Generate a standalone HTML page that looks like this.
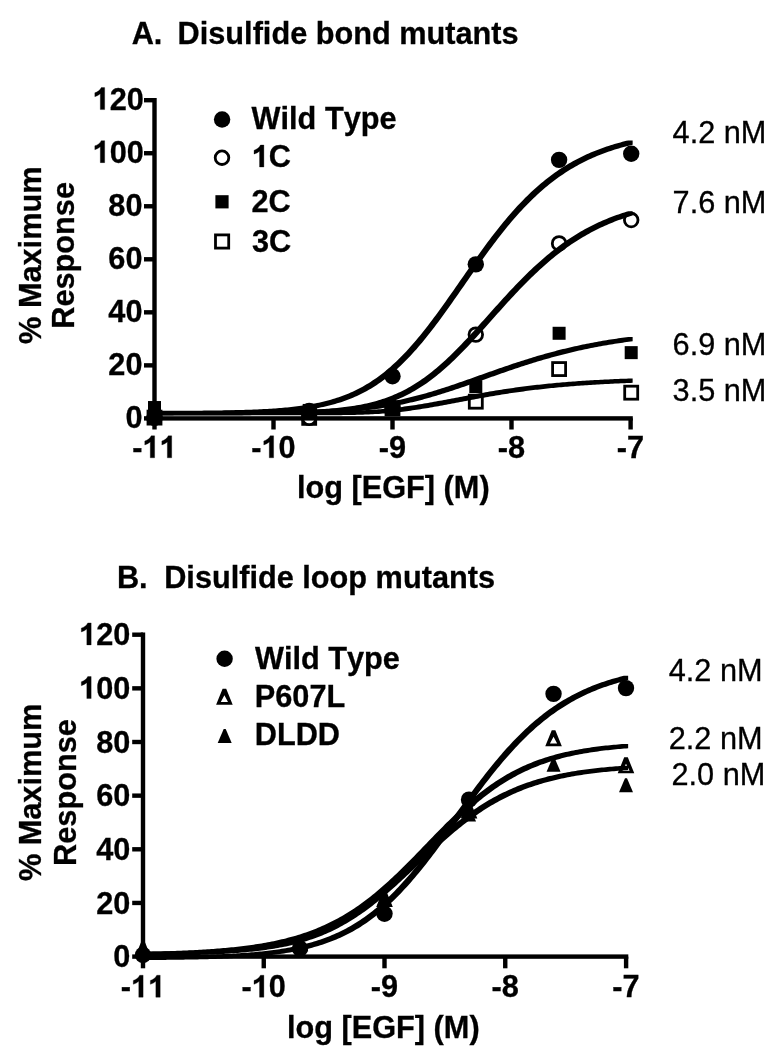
<!DOCTYPE html>
<html><head><meta charset="utf-8"><title>EGF dose response</title>
<style>
html,body{margin:0;padding:0;background:#fff;width:776px;height:1050px;overflow:hidden;}
svg{display:block;will-change:transform;}
text{font-family:"Liberation Sans",sans-serif;font-size:30.7px;fill:#000;font-kerning:none;stroke:#000;stroke-width:0.3px;}
</style></head>
<body>
<svg width="776" height="1050" viewBox="0 0 776 1050">
<rect width="776" height="1050" fill="#fff"/>
<text x="142.50" y="0" text-anchor="end" font-weight="bold" transform="translate(0 427.80) scale(1 1.04)">0</text>
<text x="130.30" y="0" text-anchor="end" font-weight="bold" transform="translate(0 967.40) scale(1 1.04)">0</text>
<text x="142.50" y="0" text-anchor="end" font-weight="bold" transform="translate(0 374.77) scale(1 1.04)">20</text>
<text x="130.30" y="0" text-anchor="end" font-weight="bold" transform="translate(0 913.75) scale(1 1.04)">20</text>
<text x="142.50" y="0" text-anchor="end" font-weight="bold" transform="translate(0 321.73) scale(1 1.04)">40</text>
<text x="130.30" y="0" text-anchor="end" font-weight="bold" transform="translate(0 860.10) scale(1 1.04)">40</text>
<text x="142.50" y="0" text-anchor="end" font-weight="bold" transform="translate(0 268.70) scale(1 1.04)">60</text>
<text x="130.30" y="0" text-anchor="end" font-weight="bold" transform="translate(0 806.45) scale(1 1.04)">60</text>
<text x="142.50" y="0" text-anchor="end" font-weight="bold" transform="translate(0 215.67) scale(1 1.04)">80</text>
<text x="130.30" y="0" text-anchor="end" font-weight="bold" transform="translate(0 752.80) scale(1 1.04)">80</text>
<path d="M806 0H516V1059Q371 925 150 860V1120Q272 1155 401 1250Q530 1345 578 1466H806Z" stroke="#000" stroke-width="20.0" transform="translate(92.58 162.63) scale(0.014990 -0.014990)"/>
<text x="109.65" y="0" font-weight="bold" transform="translate(0 162.63) scale(1 1.04)">00</text>
<path d="M806 0H516V1059Q371 925 150 860V1120Q272 1155 401 1250Q530 1345 578 1466H806Z" stroke="#000" stroke-width="20.0" transform="translate(79.08 698.55) scale(0.014990 -0.014990)"/>
<text x="96.15" y="0" font-weight="bold" transform="translate(0 698.55) scale(1 1.04)">00</text>
<path d="M806 0H516V1059Q371 925 150 860V1120Q272 1155 401 1250Q530 1345 578 1466H806Z" stroke="#000" stroke-width="20.0" transform="translate(92.58 109.60) scale(0.014990 -0.014990)"/>
<text x="109.65" y="0" font-weight="bold" transform="translate(0 109.60) scale(1 1.04)">20</text>
<path d="M806 0H516V1059Q371 925 150 860V1120Q272 1155 401 1250Q530 1345 578 1466H806Z" stroke="#000" stroke-width="20.0" transform="translate(79.08 644.90) scale(0.014990 -0.014990)"/>
<text x="96.15" y="0" font-weight="bold" transform="translate(0 644.90) scale(1 1.04)">20</text>
<text x="132.31" y="0" font-weight="bold" transform="translate(0 457.80) scale(1 1.04)">-</text>
<path d="M806 0H516V1059Q371 925 150 860V1120Q272 1155 401 1250Q530 1345 578 1466H806Z" stroke="#000" stroke-width="20.0" transform="translate(142.54 457.80) scale(0.014990 -0.014990)"/>
<path d="M806 0H516V1059Q371 925 150 860V1120Q272 1155 401 1250Q530 1345 578 1466H806Z" stroke="#000" stroke-width="20.0" transform="translate(159.61 457.80) scale(0.014990 -0.014990)"/>
<text x="120.81" y="0" font-weight="bold" transform="translate(0 997.20) scale(1 1.04)">-</text>
<path d="M806 0H516V1059Q371 925 150 860V1120Q272 1155 401 1250Q530 1345 578 1466H806Z" stroke="#000" stroke-width="20.0" transform="translate(131.04 997.20) scale(0.014990 -0.014990)"/>
<path d="M806 0H516V1059Q371 925 150 860V1120Q272 1155 401 1250Q530 1345 578 1466H806Z" stroke="#000" stroke-width="20.0" transform="translate(148.11 997.20) scale(0.014990 -0.014990)"/>
<text x="251.31" y="0" font-weight="bold" transform="translate(0 457.80) scale(1 1.04)">-</text>
<path d="M806 0H516V1059Q371 925 150 860V1120Q272 1155 401 1250Q530 1345 578 1466H806Z" stroke="#000" stroke-width="20.0" transform="translate(261.54 457.80) scale(0.014990 -0.014990)"/>
<text x="278.61" y="0" font-weight="bold" transform="translate(0 457.80) scale(1 1.04)">0</text>
<text x="241.56" y="0" font-weight="bold" transform="translate(0 997.20) scale(1 1.04)">-</text>
<path d="M806 0H516V1059Q371 925 150 860V1120Q272 1155 401 1250Q530 1345 578 1466H806Z" stroke="#000" stroke-width="20.0" transform="translate(251.79 997.20) scale(0.014990 -0.014990)"/>
<text x="268.86" y="0" font-weight="bold" transform="translate(0 997.20) scale(1 1.04)">0</text>
<text x="392.50" y="0" text-anchor="middle" font-weight="bold" transform="translate(0 457.80) scale(1 1.04)">-9</text>
<text x="384.50" y="0" text-anchor="middle" font-weight="bold" transform="translate(0 997.20) scale(1 1.04)">-9</text>
<text x="511.50" y="0" text-anchor="middle" font-weight="bold" transform="translate(0 457.80) scale(1 1.04)">-8</text>
<text x="505.25" y="0" text-anchor="middle" font-weight="bold" transform="translate(0 997.20) scale(1 1.04)">-8</text>
<text x="630.50" y="0" text-anchor="middle" font-weight="bold" transform="translate(0 457.80) scale(1 1.04)">-7</text>
<text x="626.00" y="0" text-anchor="middle" font-weight="bold" transform="translate(0 997.20) scale(1 1.04)">-7</text>
<text x="131.70" y="0" text-anchor="start" font-weight="bold" transform="translate(0 44.20) scale(1 1.04)">A.</text>
<text x="177.60" y="0" text-anchor="start" font-weight="bold" transform="translate(0 44.20) scale(1 1.03)">Disulfide bond mutants</text>
<text x="116.90" y="0" text-anchor="start" font-weight="bold" transform="translate(0 588.20) scale(1 1.04)">B.</text>
<text x="164.20" y="0" text-anchor="start" font-weight="bold" transform="translate(0 588.20) scale(1 1.03)">Disulfide loop mutants</text>
<text x="297.00" y="0" text-anchor="start" font-weight="bold" transform="translate(0 498.00) scale(1 1.03)">log [EGF] (M)</text>
<text x="287.00" y="0" text-anchor="start" font-weight="bold" transform="translate(0 1038.00) scale(1 1.03)">log [EGF] (M)</text>
<text x="0" y="0" font-weight="bold" transform="translate(40.50 343.90) rotate(-90) scale(1 1.03)">% Maximum</text>
<text x="0" y="0" font-weight="bold" transform="translate(74.40 328.70) rotate(-90) scale(1 1.03)">Response</text>
<text x="0" y="0" font-weight="bold" transform="translate(41.40 881.10) rotate(-90) scale(1 1.03)">% Maximum</text>
<text x="0" y="0" font-weight="bold" transform="translate(76.00 865.90) rotate(-90) scale(1 1.03)">Response</text>
<circle cx="222.10" cy="119.50" r="8.2"/>
<text x="251.60" y="0" text-anchor="start" font-weight="bold" transform="translate(0 129.00) scale(1 1.03)">Wild Type</text>
<circle cx="222.00" cy="157.70" r="6.8" fill="#fff" stroke="#000" stroke-width="2.8"/>
<path d="M806 0H516V1059Q371 925 150 860V1120Q272 1155 401 1250Q530 1345 578 1466H806Z" stroke="#000" stroke-width="20.0" transform="translate(251.80 167.00) scale(0.014990 -0.014990)"/>
<text x="268.87" y="0" font-weight="bold" transform="translate(0 167.00) scale(1 1.04)">C</text>
<rect x="215.40" y="195.20" width="13.2" height="13.2"/>
<text x="251.50" y="0" text-anchor="start" font-weight="bold" transform="translate(0 211.60) scale(1 1.04)">2C</text>
<rect x="215.50" y="234.90" width="13.20" height="13.20" fill="#fff" stroke="#000" stroke-width="2.8"/>
<text x="252.00" y="0" text-anchor="start" font-weight="bold" transform="translate(0 251.50) scale(1 1.04)">3C</text>
<circle cx="224.60" cy="658.80" r="8.2"/>
<text x="255.00" y="0" text-anchor="start" font-weight="bold" transform="translate(0 668.50) scale(1 1.03)">Wild Type</text>
<path d="M216.10,704.80L222.60,688.80L226.20,688.80L232.70,704.80ZM220.80,702.10L224.40,695.20L228.00,702.10Z" fill-rule="evenodd"/>
<text x="254.80" y="0" text-anchor="start" font-weight="bold" transform="translate(0 706.50) scale(1 1.04)">P607L</text>
<path d="M217.70,743.10L223.70,729.10L225.70,729.10L231.70,743.10Z"/>
<text x="254.80" y="0" text-anchor="start" font-weight="bold" transform="translate(0 745.00) scale(1 1.04)">DLDD</text>
<text x="766.40" y="0" text-anchor="end" font-weight="normal" transform="translate(0 142.50) scale(1 1.04)">4.2 nM</text>
<text x="766.40" y="0" text-anchor="end" font-weight="normal" transform="translate(0 213.00) scale(1 1.04)">7.6 nM</text>
<text x="766.40" y="0" text-anchor="end" font-weight="normal" transform="translate(0 355.00) scale(1 1.04)">6.9 nM</text>
<text x="766.40" y="0" text-anchor="end" font-weight="normal" transform="translate(0 401.20) scale(1 1.04)">3.5 nM</text>
<text x="762.60" y="0" text-anchor="end" font-weight="normal" transform="translate(0 680.50) scale(1 1.04)">4.2 nM</text>
<text x="762.60" y="0" text-anchor="end" font-weight="normal" transform="translate(0 748.50) scale(1 1.04)">2.2 nM</text>
<text x="765.30" y="0" text-anchor="end" font-weight="normal" transform="translate(0 784.50) scale(1 1.04)">2.0 nM</text>
<rect x="148.00" y="411.10" width="13.00" height="13.00" fill="#fff" stroke="#000" stroke-width="2.8"/>
<rect x="302.70" y="411.37" width="13.00" height="13.00" fill="#fff" stroke="#000" stroke-width="2.8"/>
<rect x="386.00" y="401.82" width="13.00" height="13.00" fill="#fff" stroke="#000" stroke-width="2.8"/>
<rect x="469.30" y="395.19" width="13.00" height="13.00" fill="#fff" stroke="#000" stroke-width="2.8"/>
<rect x="552.60" y="362.58" width="13.00" height="13.00" fill="#fff" stroke="#000" stroke-width="2.8"/>
<rect x="624.70" y="386.18" width="13.00" height="13.00" fill="#fff" stroke="#000" stroke-width="2.8"/>
<circle cx="154.50" cy="417.60" r="6.8" fill="#fff" stroke="#000" stroke-width="2.8"/>
<circle cx="309.20" cy="417.87" r="6.8" fill="#fff" stroke="#000" stroke-width="2.8"/>
<circle cx="392.50" cy="407.79" r="6.8" fill="#fff" stroke="#000" stroke-width="2.8"/>
<circle cx="475.80" cy="334.61" r="6.8" fill="#fff" stroke="#000" stroke-width="2.8"/>
<circle cx="559.10" cy="243.39" r="6.8" fill="#fff" stroke="#000" stroke-width="2.8"/>
<circle cx="631.20" cy="220.06" r="6.8" fill="#fff" stroke="#000" stroke-width="2.8"/>
<rect x="148.00" y="401.03" width="13.0" height="13.0"/>
<rect x="302.70" y="403.94" width="13.0" height="13.0"/>
<rect x="386.00" y="401.82" width="13.0" height="13.0"/>
<rect x="469.30" y="380.08" width="13.0" height="13.0"/>
<rect x="552.60" y="326.78" width="13.0" height="13.0"/>
<rect x="624.70" y="346.14" width="13.0" height="13.0"/>
<circle cx="154.50" cy="417.60" r="8.2"/>
<circle cx="309.20" cy="410.98" r="8.2"/>
<circle cx="392.50" cy="376.24" r="8.2"/>
<circle cx="475.80" cy="264.34" r="8.2"/>
<circle cx="559.10" cy="159.86" r="8.2"/>
<circle cx="631.20" cy="153.76" r="8.2"/>
<rect x="152.30" y="98.00" width="4.4" height="322.60"/>
<rect x="152.30" y="416.20" width="480.50" height="4.4"/>
<rect x="144.00" y="416.20" width="10.50" height="4.4"/>
<rect x="144.00" y="363.17" width="10.50" height="4.4"/>
<rect x="144.00" y="310.13" width="10.50" height="4.4"/>
<rect x="144.00" y="257.10" width="10.50" height="4.4"/>
<rect x="144.00" y="204.07" width="10.50" height="4.4"/>
<rect x="144.00" y="151.03" width="10.50" height="4.4"/>
<rect x="144.00" y="98.00" width="10.50" height="4.4"/>
<rect x="152.30" y="418.40" width="4.4" height="11.10"/>
<rect x="271.30" y="418.40" width="4.4" height="11.10"/>
<rect x="390.30" y="418.40" width="4.4" height="11.10"/>
<rect x="509.30" y="418.40" width="4.4" height="11.10"/>
<rect x="628.40" y="418.40" width="4.4" height="11.10"/>
<path d="M152.35,410.87L154.33,410.87L156.32,410.87L158.30,410.86L160.28,410.85L162.27,410.85L164.25,410.84L166.23,410.84L168.22,410.83L170.20,410.82L172.18,410.82L174.17,410.81L176.15,410.80L178.13,410.79L180.12,410.78L182.10,410.77L184.08,410.76L186.07,410.75L188.05,410.74L190.03,410.73L192.02,410.71L194.00,410.70L195.98,410.69L197.97,410.67L199.95,410.65L201.93,410.64L203.92,410.62L205.90,410.60L207.88,410.58L209.87,410.55L211.85,410.53L213.83,410.51L215.82,410.48L217.80,410.45L219.78,410.42L221.77,410.39L223.75,410.36L225.73,410.32L227.72,410.29L229.70,410.25L231.68,410.21L233.67,410.16L235.65,410.12L237.63,410.07L239.62,410.02L241.60,409.96L243.58,409.91L245.57,409.85L247.55,409.78L249.53,409.71L251.52,409.64L253.50,409.57L255.48,409.49L257.47,409.40L259.45,409.31L261.43,409.22L263.42,409.12L265.40,409.01L267.38,408.90L269.37,408.79L271.35,408.66L273.33,408.53L275.32,408.39L277.30,408.25L279.28,408.10L281.27,407.94L283.25,407.77L285.23,407.59L287.22,407.40L289.20,407.20L291.18,406.99L293.17,406.77L295.15,406.54L297.13,406.29L299.12,406.04L301.10,405.77L303.08,405.48L305.07,405.18L307.05,404.87L309.03,404.54L311.02,404.19L313.00,403.83L314.98,403.45L316.97,403.05L318.95,402.63L320.93,402.19L322.92,401.72L324.90,401.24L326.88,400.73L328.87,400.20L330.85,399.65L332.83,399.07L334.82,398.46L336.80,397.83L338.78,397.16L340.77,396.47L342.75,395.75L344.73,394.99L346.72,394.21L348.70,393.39L350.68,392.53L352.67,391.64L354.65,390.72L356.63,389.75L358.62,388.75L360.60,387.71L362.58,386.63L364.57,385.51L366.55,384.35L368.53,383.14L370.52,381.89L372.50,380.60L374.48,379.26L376.47,377.88L378.45,376.45L380.43,374.97L382.42,373.45L384.40,371.88L386.38,370.26L388.37,368.59L390.35,366.88L392.33,365.11L394.32,363.30L396.30,361.44L398.28,359.53L400.27,357.57L402.25,355.56L404.23,353.51L406.22,351.41L408.20,349.26L410.18,347.07L412.17,344.83L414.15,342.55L416.13,340.23L418.12,337.86L420.10,335.45L422.08,333.01L424.07,330.52L426.05,328.00L428.03,325.45L430.02,322.86L432.00,320.24L433.98,317.59L435.97,314.91L437.95,312.20L439.93,309.48L441.92,306.72L443.90,303.95L445.88,301.17L447.87,298.36L449.85,295.55L451.83,292.72L453.82,289.88L455.80,287.04L457.78,284.19L459.77,281.34L461.75,278.48L463.73,275.64L465.72,272.79L467.70,269.95L469.68,267.12L471.67,264.30L473.65,261.49L475.63,258.70L477.62,255.92L479.60,253.17L481.58,250.43L483.57,247.71L485.55,245.02L487.53,242.35L489.52,239.71L491.50,237.09L493.48,234.51L495.47,231.95L497.45,229.43L499.43,226.94L501.42,224.48L503.40,222.06L505.38,219.67L507.37,217.32L509.35,215.00L511.33,212.73L513.32,210.49L515.30,208.29L517.28,206.12L519.27,204.00L521.25,201.92L523.23,199.88L525.22,197.87L527.20,195.91L529.18,193.99L531.17,192.11L533.15,190.26L535.13,188.46L537.12,186.70L539.10,184.97L541.08,183.29L543.07,181.64L545.05,180.04L547.03,178.47L549.02,176.94L551.00,175.44L552.98,173.99L554.97,172.57L556.95,171.18L558.93,169.84L560.92,168.52L562.90,167.24L564.88,166.00L566.87,164.78L568.85,163.60L570.83,162.46L572.82,161.34L574.80,160.26L576.78,159.20L578.77,158.17L580.75,157.18L582.73,156.21L584.72,155.27L586.70,154.36L588.68,153.47L590.67,152.61L592.65,151.77L594.63,150.96L596.62,150.17L598.60,149.41L600.58,148.67L602.57,147.95L604.55,147.25L606.53,146.58L608.52,145.92L610.50,145.29L612.48,144.67L614.47,144.08L616.45,143.50L618.43,142.94L620.42,142.40L622.40,141.87L624.38,141.36L626.37,140.87L628.35,140.39L632.65,140.39L632.65,144.69L630.67,145.17L628.68,145.66L626.70,146.17L624.72,146.70L622.73,147.24L620.75,147.80L618.77,148.38L616.78,148.97L614.80,149.59L612.82,150.22L610.83,150.88L608.85,151.55L606.87,152.25L604.88,152.97L602.90,153.71L600.92,154.47L598.93,155.26L596.95,156.07L594.97,156.91L592.98,157.77L591.00,158.66L589.02,159.57L587.03,160.51L585.05,161.48L583.07,162.47L581.08,163.50L579.10,164.56L577.12,165.64L575.13,166.76L573.15,167.90L571.17,169.08L569.18,170.30L567.20,171.54L565.22,172.82L563.23,174.14L561.25,175.48L559.27,176.87L557.28,178.29L555.30,179.74L553.32,181.24L551.33,182.77L549.35,184.34L547.37,185.94L545.38,187.59L543.40,189.27L541.42,191.00L539.43,192.76L537.45,194.56L535.47,196.41L533.48,198.29L531.50,200.21L529.52,202.17L527.53,204.18L525.55,206.22L523.57,208.30L521.58,210.42L519.60,212.59L517.62,214.79L515.63,217.03L513.65,219.30L511.67,221.62L509.68,223.97L507.70,226.36L505.72,228.78L503.73,231.24L501.75,233.73L499.77,236.25L497.78,238.81L495.80,241.39L493.82,244.01L491.83,246.65L489.85,249.32L487.87,252.01L485.88,254.73L483.90,257.47L481.92,260.22L479.93,263.00L477.95,265.79L475.97,268.60L473.98,271.42L472.00,274.25L470.02,277.09L468.03,279.94L466.05,282.78L464.07,285.64L462.08,288.49L460.10,291.34L458.12,294.18L456.13,297.02L454.15,299.85L452.17,302.66L450.18,305.47L448.20,308.25L446.22,311.02L444.23,313.78L442.25,316.50L440.27,319.21L438.28,321.89L436.30,324.54L434.32,327.16L432.33,329.75L430.35,332.30L428.37,334.82L426.38,337.31L424.40,339.75L422.42,342.16L420.43,344.53L418.45,346.85L416.47,349.13L414.48,351.37L412.50,353.56L410.52,355.71L408.53,357.81L406.55,359.86L404.57,361.87L402.58,363.83L400.60,365.74L398.62,367.60L396.63,369.41L394.65,371.18L392.67,372.89L390.68,374.56L388.70,376.18L386.72,377.75L384.73,379.27L382.75,380.75L380.77,382.18L378.78,383.56L376.80,384.90L374.82,386.19L372.83,387.44L370.85,388.65L368.87,389.81L366.88,390.93L364.90,392.01L362.92,393.05L360.93,394.05L358.95,395.02L356.97,395.94L354.98,396.83L353.00,397.69L351.02,398.51L349.03,399.29L347.05,400.05L345.07,400.77L343.08,401.46L341.10,402.13L339.12,402.76L337.13,403.37L335.15,403.95L333.17,404.50L331.18,405.03L329.20,405.54L327.22,406.02L325.23,406.49L323.25,406.93L321.27,407.35L319.28,407.75L317.30,408.13L315.32,408.49L313.33,408.84L311.35,409.17L309.37,409.48L307.38,409.78L305.40,410.07L303.42,410.34L301.43,410.59L299.45,410.84L297.47,411.07L295.48,411.29L293.50,411.50L291.52,411.70L289.53,411.89L287.55,412.07L285.57,412.24L283.58,412.40L281.60,412.55L279.62,412.69L277.63,412.83L275.65,412.96L273.67,413.09L271.68,413.20L269.70,413.31L267.72,413.42L265.73,413.52L263.75,413.61L261.77,413.70L259.78,413.79L257.80,413.87L255.82,413.94L253.83,414.01L251.85,414.08L249.87,414.15L247.88,414.21L245.90,414.26L243.92,414.32L241.93,414.37L239.95,414.42L237.97,414.46L235.98,414.51L234.00,414.55L232.02,414.59L230.03,414.62L228.05,414.66L226.07,414.69L224.08,414.72L222.10,414.75L220.12,414.78L218.13,414.81L216.15,414.83L214.17,414.85L212.18,414.88L210.20,414.90L208.22,414.92L206.23,414.94L204.25,414.95L202.27,414.97L200.28,414.99L198.30,415.00L196.32,415.01L194.33,415.03L192.35,415.04L190.37,415.05L188.38,415.06L186.40,415.07L184.42,415.08L182.43,415.09L180.45,415.10L178.47,415.11L176.48,415.12L174.50,415.12L172.52,415.13L170.53,415.14L168.55,415.14L166.57,415.15L164.58,415.15L162.60,415.16L160.62,415.17L158.63,415.17L156.65,415.17L152.35,415.17Z"/>
<path d="M152.35,410.94L154.33,410.94L156.32,410.94L158.30,410.94L160.28,410.94L162.27,410.94L164.25,410.94L166.23,410.94L168.22,410.94L170.20,410.94L172.18,410.94L174.17,410.94L176.15,410.94L178.13,410.94L180.12,410.94L182.10,410.94L184.08,410.93L186.07,410.93L188.05,410.93L190.03,410.93L192.02,410.93L194.00,410.93L195.98,410.93L197.97,410.93L199.95,410.92L201.93,410.92L203.92,410.92L205.90,410.92L207.88,410.92L209.87,410.91L211.85,410.91L213.83,410.91L215.82,410.91L217.80,410.90L219.78,410.90L221.77,410.90L223.75,410.89L225.73,410.89L227.72,410.88L229.70,410.88L231.68,410.87L233.67,410.87L235.65,410.86L237.63,410.86L239.62,410.85L241.60,410.84L243.58,410.83L245.57,410.83L247.55,410.82L249.53,410.81L251.52,410.80L253.50,410.78L255.48,410.77L257.47,410.76L259.45,410.74L261.43,410.73L263.42,410.71L265.40,410.70L267.38,410.68L269.37,410.66L271.35,410.64L273.33,410.61L275.32,410.59L277.30,410.56L279.28,410.53L281.27,410.50L283.25,410.47L285.23,410.43L287.22,410.40L289.20,410.36L291.18,410.31L293.17,410.27L295.15,410.22L297.13,410.17L299.12,410.11L301.10,410.05L303.08,409.99L305.07,409.92L307.05,409.85L309.03,409.77L311.02,409.69L313.00,409.60L314.98,409.50L316.97,409.40L318.95,409.29L320.93,409.18L322.92,409.06L324.90,408.93L326.88,408.79L328.87,408.64L330.85,408.49L332.83,408.32L334.82,408.15L336.80,407.96L338.78,407.76L340.77,407.55L342.75,407.33L344.73,407.09L346.72,406.84L348.70,406.58L350.68,406.30L352.67,406.00L354.65,405.69L356.63,405.36L358.62,405.01L360.60,404.64L362.58,404.25L364.57,403.84L366.55,403.41L368.53,402.96L370.52,402.48L372.50,401.98L374.48,401.45L376.47,400.90L378.45,400.32L380.43,399.71L382.42,399.08L384.40,398.41L386.38,397.71L388.37,396.98L390.35,396.22L392.33,395.43L394.32,394.60L396.30,393.74L398.28,392.84L400.27,391.90L402.25,390.93L404.23,389.92L406.22,388.88L408.20,387.79L410.18,386.67L412.17,385.50L414.15,384.30L416.13,383.05L418.12,381.77L420.10,380.44L422.08,379.08L424.07,377.67L426.05,376.23L428.03,374.74L430.02,373.22L432.00,371.65L433.98,370.05L435.97,368.41L437.95,366.72L439.93,365.01L441.92,363.25L443.90,361.46L445.88,359.64L447.87,357.78L449.85,355.89L451.83,353.97L453.82,352.01L455.80,350.03L457.78,348.03L459.77,345.99L461.75,343.93L463.73,341.85L465.72,339.75L467.70,337.63L469.68,335.49L471.67,333.33L473.65,331.16L475.63,328.98L477.62,326.78L479.60,324.58L481.58,322.37L483.57,320.15L485.55,317.93L487.53,315.71L489.52,313.49L491.50,311.27L493.48,309.05L495.47,306.84L497.45,304.63L499.43,302.43L501.42,300.24L503.40,298.06L505.38,295.90L507.37,293.74L509.35,291.61L511.33,289.49L513.32,287.39L515.30,285.30L517.28,283.24L519.27,281.20L521.25,279.18L523.23,277.18L525.22,275.21L527.20,273.27L529.18,271.34L531.17,269.45L533.15,267.58L535.13,265.74L537.12,263.93L539.10,262.14L541.08,260.39L543.07,258.66L545.05,256.97L547.03,255.30L549.02,253.67L551.00,252.06L552.98,250.49L554.97,248.94L556.95,247.43L558.93,245.94L560.92,244.49L562.90,243.07L564.88,241.67L566.87,240.31L568.85,238.98L570.83,237.67L572.82,236.40L574.80,235.16L576.78,233.94L578.77,232.75L580.75,231.59L582.73,230.46L584.72,229.36L586.70,228.28L588.68,227.23L590.67,226.21L592.65,225.21L594.63,224.24L596.62,223.29L598.60,222.37L600.58,221.47L602.57,220.59L604.55,219.74L606.53,218.91L608.52,218.11L610.50,217.32L612.48,216.56L614.47,215.82L616.45,215.10L618.43,214.40L620.42,213.71L622.40,213.05L624.38,212.41L626.37,211.78L628.35,211.18L632.65,211.18L632.65,215.48L630.67,216.08L628.68,216.71L626.70,217.35L624.72,218.01L622.73,218.70L620.75,219.40L618.77,220.12L616.78,220.86L614.80,221.62L612.82,222.41L610.83,223.21L608.85,224.04L606.87,224.89L604.88,225.77L602.90,226.67L600.92,227.59L598.93,228.54L596.95,229.51L594.97,230.51L592.98,231.53L591.00,232.58L589.02,233.66L587.03,234.76L585.05,235.89L583.07,237.05L581.08,238.24L579.10,239.46L577.12,240.70L575.13,241.97L573.15,243.28L571.17,244.61L569.18,245.97L567.20,247.37L565.22,248.79L563.23,250.24L561.25,251.73L559.27,253.24L557.28,254.79L555.30,256.36L553.32,257.97L551.33,259.60L549.35,261.27L547.37,262.96L545.38,264.69L543.40,266.44L541.42,268.23L539.43,270.04L537.45,271.88L535.47,273.75L533.48,275.64L531.50,277.57L529.52,279.51L527.53,281.48L525.55,283.48L523.57,285.50L521.58,287.54L519.60,289.60L517.62,291.69L515.63,293.79L513.65,295.91L511.67,298.04L509.68,300.20L507.70,302.36L505.72,304.54L503.73,306.73L501.75,308.93L499.77,311.14L497.78,313.35L495.80,315.57L493.82,317.79L491.83,320.01L489.85,322.23L487.87,324.45L485.88,326.67L483.90,328.88L481.92,331.08L479.93,333.28L477.95,335.46L475.97,337.63L473.98,339.79L472.00,341.93L470.02,344.05L468.03,346.15L466.05,348.23L464.07,350.29L462.08,352.33L460.10,354.33L458.12,356.31L456.13,358.27L454.15,360.19L452.17,362.08L450.18,363.94L448.20,365.76L446.22,367.55L444.23,369.31L442.25,371.02L440.27,372.71L438.28,374.35L436.30,375.95L434.32,377.52L432.33,379.04L430.35,380.53L428.37,381.97L426.38,383.38L424.40,384.74L422.42,386.07L420.43,387.35L418.45,388.60L416.47,389.80L414.48,390.97L412.50,392.09L410.52,393.18L408.53,394.22L406.55,395.23L404.57,396.20L402.58,397.14L400.60,398.04L398.62,398.90L396.63,399.73L394.65,400.52L392.67,401.28L390.68,402.01L388.70,402.71L386.72,403.38L384.73,404.01L382.75,404.62L380.77,405.20L378.78,405.75L376.80,406.28L374.82,406.78L372.83,407.26L370.85,407.71L368.87,408.14L366.88,408.55L364.90,408.94L362.92,409.31L360.93,409.66L358.95,409.99L356.97,410.30L354.98,410.60L353.00,410.88L351.02,411.14L349.03,411.39L347.05,411.63L345.07,411.85L343.08,412.06L341.10,412.26L339.12,412.45L337.13,412.62L335.15,412.79L333.17,412.94L331.18,413.09L329.20,413.23L327.22,413.36L325.23,413.48L323.25,413.59L321.27,413.70L319.28,413.80L317.30,413.90L315.32,413.99L313.33,414.07L311.35,414.15L309.37,414.22L307.38,414.29L305.40,414.35L303.42,414.41L301.43,414.47L299.45,414.52L297.47,414.57L295.48,414.61L293.50,414.66L291.52,414.70L289.53,414.73L287.55,414.77L285.57,414.80L283.58,414.83L281.60,414.86L279.62,414.89L277.63,414.91L275.65,414.94L273.67,414.96L271.68,414.98L269.70,415.00L267.72,415.01L265.73,415.03L263.75,415.04L261.77,415.06L259.78,415.07L257.80,415.08L255.82,415.10L253.83,415.11L251.85,415.12L249.87,415.13L247.88,415.13L245.90,415.14L243.92,415.15L241.93,415.16L239.95,415.16L237.97,415.17L235.98,415.17L234.00,415.18L232.02,415.18L230.03,415.19L228.05,415.19L226.07,415.20L224.08,415.20L222.10,415.20L220.12,415.21L218.13,415.21L216.15,415.21L214.17,415.21L212.18,415.22L210.20,415.22L208.22,415.22L206.23,415.22L204.25,415.22L202.27,415.23L200.28,415.23L198.30,415.23L196.32,415.23L194.33,415.23L192.35,415.23L190.37,415.23L188.38,415.23L186.40,415.24L184.42,415.24L182.43,415.24L180.45,415.24L178.47,415.24L176.48,415.24L174.50,415.24L172.52,415.24L170.53,415.24L168.55,415.24L166.57,415.24L164.58,415.24L162.60,415.24L160.62,415.24L158.63,415.24L156.65,415.24L152.35,415.24Z"/>
<path d="M152.35,410.94L154.33,410.94L156.32,410.94L158.30,410.94L160.28,410.94L162.27,410.94L164.25,410.94L166.23,410.94L168.22,410.94L170.20,410.94L172.18,410.94L174.17,410.93L176.15,410.93L178.13,410.93L180.12,410.93L182.10,410.93L184.08,410.93L186.07,410.93L188.05,410.93L190.03,410.93L192.02,410.92L194.00,410.92L195.98,410.92L197.97,410.92L199.95,410.92L201.93,410.91L203.92,410.91L205.90,410.91L207.88,410.91L209.87,410.90L211.85,410.90L213.83,410.90L215.82,410.89L217.80,410.89L219.78,410.89L221.77,410.88L223.75,410.88L225.73,410.87L227.72,410.87L229.70,410.86L231.68,410.85L233.67,410.85L235.65,410.84L237.63,410.83L239.62,410.82L241.60,410.82L243.58,410.81L245.57,410.80L247.55,410.79L249.53,410.77L251.52,410.76L253.50,410.75L255.48,410.74L257.47,410.72L259.45,410.71L261.43,410.69L263.42,410.67L265.40,410.65L267.38,410.63L269.37,410.61L271.35,410.59L273.33,410.57L275.32,410.54L277.30,410.51L279.28,410.48L281.27,410.45L283.25,410.42L285.23,410.39L287.22,410.35L289.20,410.31L291.18,410.27L293.17,410.23L295.15,410.18L297.13,410.13L299.12,410.08L301.10,410.03L303.08,409.97L305.07,409.91L307.05,409.85L309.03,409.78L311.02,409.71L313.00,409.64L314.98,409.56L316.97,409.48L318.95,409.39L320.93,409.30L322.92,409.20L324.90,409.10L326.88,408.99L328.87,408.88L330.85,408.77L332.83,408.64L334.82,408.51L336.80,408.38L338.78,408.24L340.77,408.09L342.75,407.94L344.73,407.78L346.72,407.61L348.70,407.43L350.68,407.25L352.67,407.06L354.65,406.86L356.63,406.65L358.62,406.44L360.60,406.21L362.58,405.98L364.57,405.74L366.55,405.49L368.53,405.23L370.52,404.95L372.50,404.68L374.48,404.39L376.47,404.09L378.45,403.78L380.43,403.46L382.42,403.13L384.40,402.78L386.38,402.43L388.37,402.07L390.35,401.70L392.33,401.31L394.32,400.92L396.30,400.51L398.28,400.10L400.27,399.67L402.25,399.23L404.23,398.78L406.22,398.32L408.20,397.85L410.18,397.37L412.17,396.87L414.15,396.37L416.13,395.86L418.12,395.33L420.10,394.80L422.08,394.25L424.07,393.70L426.05,393.14L428.03,392.56L430.02,391.98L432.00,391.39L433.98,390.79L435.97,390.18L437.95,389.57L439.93,388.95L441.92,388.31L443.90,387.68L445.88,387.03L447.87,386.38L449.85,385.72L451.83,385.06L453.82,384.39L455.80,383.71L457.78,383.04L459.77,382.35L461.75,381.67L463.73,380.98L465.72,380.28L467.70,379.58L469.68,378.89L471.67,378.18L473.65,377.48L475.63,376.78L477.62,376.07L479.60,375.37L481.58,374.66L483.57,373.95L485.55,373.25L487.53,372.55L489.52,371.84L491.50,371.14L493.48,370.44L495.47,369.74L497.45,369.05L499.43,368.36L501.42,367.67L503.40,366.98L505.38,366.30L507.37,365.63L509.35,364.95L511.33,364.29L513.32,363.62L515.30,362.96L517.28,362.31L519.27,361.66L521.25,361.02L523.23,360.39L525.22,359.76L527.20,359.13L529.18,358.52L531.17,357.91L533.15,357.30L535.13,356.70L537.12,356.11L539.10,355.53L541.08,354.96L543.07,354.39L545.05,353.83L547.03,353.27L549.02,352.73L551.00,352.19L552.98,351.66L554.97,351.13L556.95,350.62L558.93,350.11L560.92,349.61L562.90,349.12L564.88,348.63L566.87,348.16L568.85,347.69L570.83,347.22L572.82,346.77L574.80,346.32L576.78,345.89L578.77,345.45L580.75,345.03L582.73,344.61L584.72,344.21L586.70,343.80L588.68,343.41L590.67,343.02L592.65,342.65L594.63,342.27L596.62,341.91L598.60,341.55L600.58,341.20L602.57,340.85L604.55,340.52L606.53,340.19L608.52,339.86L610.50,339.54L612.48,339.23L614.47,338.93L616.45,338.63L618.43,338.34L620.42,338.05L622.40,337.77L624.38,337.50L626.37,337.23L628.35,336.97L632.65,336.97L632.65,341.27L630.67,341.53L628.68,341.80L626.70,342.07L624.72,342.35L622.73,342.64L620.75,342.93L618.77,343.23L616.78,343.53L614.80,343.84L612.82,344.16L610.83,344.49L608.85,344.82L606.87,345.15L604.88,345.50L602.90,345.85L600.92,346.21L598.93,346.57L596.95,346.95L594.97,347.32L592.98,347.71L591.00,348.10L589.02,348.51L587.03,348.91L585.05,349.33L583.07,349.75L581.08,350.19L579.10,350.62L577.12,351.07L575.13,351.52L573.15,351.99L571.17,352.46L569.18,352.93L567.20,353.42L565.22,353.91L563.23,354.41L561.25,354.92L559.27,355.43L557.28,355.96L555.30,356.49L553.32,357.03L551.33,357.57L549.35,358.13L547.37,358.69L545.38,359.26L543.40,359.83L541.42,360.41L539.43,361.00L537.45,361.60L535.47,362.21L533.48,362.82L531.50,363.43L529.52,364.06L527.53,364.69L525.55,365.32L523.57,365.96L521.58,366.61L519.60,367.26L517.62,367.92L515.63,368.59L513.65,369.25L511.67,369.93L509.68,370.60L507.70,371.28L505.72,371.97L503.73,372.66L501.75,373.35L499.77,374.04L497.78,374.74L495.80,375.44L493.82,376.14L491.83,376.85L489.85,377.55L487.87,378.25L485.88,378.96L483.90,379.67L481.92,380.37L479.93,381.08L477.95,381.78L475.97,382.48L473.98,383.19L472.00,383.88L470.02,384.58L468.03,385.28L466.05,385.97L464.07,386.65L462.08,387.34L460.10,388.01L458.12,388.69L456.13,389.36L454.15,390.02L452.17,390.68L450.18,391.33L448.20,391.98L446.22,392.61L444.23,393.25L442.25,393.87L440.27,394.48L438.28,395.09L436.30,395.69L434.32,396.28L432.33,396.86L430.35,397.44L428.37,398.00L426.38,398.55L424.40,399.10L422.42,399.63L420.43,400.16L418.45,400.67L416.47,401.17L414.48,401.67L412.50,402.15L410.52,402.62L408.53,403.08L406.55,403.53L404.57,403.97L402.58,404.40L400.60,404.81L398.62,405.22L396.63,405.61L394.65,406.00L392.67,406.37L390.68,406.73L388.70,407.08L386.72,407.43L384.73,407.76L382.75,408.08L380.77,408.39L378.78,408.69L376.80,408.98L374.82,409.25L372.83,409.53L370.85,409.79L368.87,410.04L366.88,410.28L364.90,410.51L362.92,410.74L360.93,410.95L358.95,411.16L356.97,411.36L354.98,411.55L353.00,411.73L351.02,411.91L349.03,412.08L347.05,412.24L345.07,412.39L343.08,412.54L341.10,412.68L339.12,412.81L337.13,412.94L335.15,413.07L333.17,413.18L331.18,413.29L329.20,413.40L327.22,413.50L325.23,413.60L323.25,413.69L321.27,413.78L319.28,413.86L317.30,413.94L315.32,414.01L313.33,414.08L311.35,414.15L309.37,414.21L307.38,414.27L305.40,414.33L303.42,414.38L301.43,414.43L299.45,414.48L297.47,414.53L295.48,414.57L293.50,414.61L291.52,414.65L289.53,414.69L287.55,414.72L285.57,414.75L283.58,414.78L281.60,414.81L279.62,414.84L277.63,414.87L275.65,414.89L273.67,414.91L271.68,414.93L269.70,414.95L267.72,414.97L265.73,414.99L263.75,415.01L261.77,415.02L259.78,415.04L257.80,415.05L255.82,415.06L253.83,415.07L251.85,415.09L249.87,415.10L247.88,415.11L245.90,415.12L243.92,415.12L241.93,415.13L239.95,415.14L237.97,415.15L235.98,415.15L234.00,415.16L232.02,415.17L230.03,415.17L228.05,415.18L226.07,415.18L224.08,415.19L222.10,415.19L220.12,415.19L218.13,415.20L216.15,415.20L214.17,415.20L212.18,415.21L210.20,415.21L208.22,415.21L206.23,415.21L204.25,415.22L202.27,415.22L200.28,415.22L198.30,415.22L196.32,415.22L194.33,415.23L192.35,415.23L190.37,415.23L188.38,415.23L186.40,415.23L184.42,415.23L182.43,415.23L180.45,415.23L178.47,415.23L176.48,415.24L174.50,415.24L172.52,415.24L170.53,415.24L168.55,415.24L166.57,415.24L164.58,415.24L162.60,415.24L160.62,415.24L158.63,415.24L156.65,415.24L152.35,415.24Z"/>
<path d="M152.35,410.95L154.33,410.95L156.32,410.95L158.30,410.95L160.28,410.95L162.27,410.95L164.25,410.95L166.23,410.95L168.22,410.95L170.20,410.95L172.18,410.95L174.17,410.95L176.15,410.95L178.13,410.95L180.12,410.95L182.10,410.95L184.08,410.95L186.07,410.95L188.05,410.95L190.03,410.95L192.02,410.95L194.00,410.95L195.98,410.95L197.97,410.95L199.95,410.95L201.93,410.95L203.92,410.95L205.90,410.95L207.88,410.95L209.87,410.95L211.85,410.95L213.83,410.95L215.82,410.95L217.80,410.95L219.78,410.95L221.77,410.95L223.75,410.95L225.73,410.95L227.72,410.95L229.70,410.95L231.68,410.95L233.67,410.95L235.65,410.95L237.63,410.95L239.62,410.95L241.60,410.95L243.58,410.95L245.57,410.95L247.55,410.95L249.53,410.95L251.52,410.95L253.50,410.95L255.48,410.95L257.47,410.95L259.45,410.95L261.43,410.95L263.42,410.95L265.40,410.95L267.38,410.95L269.37,410.95L271.35,410.95L273.33,410.95L275.32,410.95L277.30,410.95L279.28,410.95L281.27,410.95L283.25,410.95L285.23,410.95L287.22,410.95L289.20,410.95L291.18,410.95L293.17,410.95L295.15,410.95L297.13,410.95L299.12,410.94L301.10,410.94L303.08,410.94L305.07,410.94L307.05,410.94L309.03,410.94L311.02,410.94L313.00,410.94L314.98,410.93L316.97,410.93L318.95,410.92L320.93,410.92L322.92,410.91L324.90,410.91L326.88,410.90L328.87,410.89L330.85,410.87L332.83,410.86L334.82,410.84L336.80,410.83L338.78,410.80L340.77,410.78L342.75,410.75L344.73,410.72L346.72,410.68L348.70,410.64L350.68,410.60L352.67,410.55L354.65,410.49L356.63,410.43L358.62,410.37L360.60,410.29L362.58,410.22L364.57,410.13L366.55,410.04L368.53,409.93L370.52,409.82L372.50,409.71L374.48,409.58L376.47,409.45L378.45,409.30L380.43,409.15L382.42,408.99L384.40,408.82L386.38,408.64L388.37,408.45L390.35,408.26L392.33,408.05L394.32,407.83L396.30,407.61L398.28,407.37L400.27,407.13L402.25,406.88L404.23,406.62L406.22,406.35L408.20,406.07L410.18,405.79L412.17,405.49L414.15,405.19L416.13,404.88L418.12,404.57L420.10,404.25L422.08,403.92L424.07,403.59L426.05,403.25L428.03,402.90L430.02,402.55L432.00,402.20L433.98,401.84L435.97,401.48L437.95,401.12L439.93,400.75L441.92,400.38L443.90,400.01L445.88,399.64L447.87,399.26L449.85,398.89L451.83,398.51L453.82,398.13L455.80,397.76L457.78,397.38L459.77,397.00L461.75,396.63L463.73,396.25L465.72,395.88L467.70,395.51L469.68,395.14L471.67,394.78L473.65,394.41L475.63,394.05L477.62,393.69L479.60,393.34L481.58,392.98L483.57,392.64L485.55,392.29L487.53,391.95L489.52,391.61L491.50,391.28L493.48,390.95L495.47,390.62L497.45,390.30L499.43,389.99L501.42,389.67L503.40,389.37L505.38,389.06L507.37,388.77L509.35,388.47L511.33,388.19L513.32,387.90L515.30,387.62L517.28,387.35L519.27,387.08L521.25,386.82L523.23,386.56L525.22,386.30L527.20,386.05L529.18,385.81L531.17,385.57L533.15,385.33L535.13,385.10L537.12,384.87L539.10,384.65L541.08,384.44L543.07,384.22L545.05,384.02L547.03,383.81L549.02,383.61L551.00,383.42L552.98,383.23L554.97,383.04L556.95,382.86L558.93,382.68L560.92,382.51L562.90,382.34L564.88,382.18L566.87,382.01L568.85,381.86L570.83,381.70L572.82,381.55L574.80,381.40L576.78,381.26L578.77,381.12L580.75,380.98L582.73,380.85L584.72,380.72L586.70,380.59L588.68,380.47L590.67,380.35L592.65,380.23L594.63,380.12L596.62,380.01L598.60,379.90L600.58,379.79L602.57,379.69L604.55,379.59L606.53,379.49L608.52,379.40L610.50,379.30L612.48,379.21L614.47,379.12L616.45,379.04L618.43,378.95L620.42,378.87L622.40,378.79L624.38,378.72L626.37,378.64L628.35,378.57L632.65,378.57L632.65,382.87L630.67,382.94L628.68,383.02L626.70,383.09L624.72,383.17L622.73,383.25L620.75,383.34L618.77,383.42L616.78,383.51L614.80,383.60L612.82,383.70L610.83,383.79L608.85,383.89L606.87,383.99L604.88,384.09L602.90,384.20L600.92,384.31L598.93,384.42L596.95,384.53L594.97,384.65L592.98,384.77L591.00,384.89L589.02,385.02L587.03,385.15L585.05,385.28L583.07,385.42L581.08,385.56L579.10,385.70L577.12,385.85L575.13,386.00L573.15,386.16L571.17,386.31L569.18,386.48L567.20,386.64L565.22,386.81L563.23,386.98L561.25,387.16L559.27,387.34L557.28,387.53L555.30,387.72L553.32,387.91L551.33,388.11L549.35,388.32L547.37,388.52L545.38,388.74L543.40,388.95L541.42,389.17L539.43,389.40L537.45,389.63L535.47,389.87L533.48,390.11L531.50,390.35L529.52,390.60L527.53,390.86L525.55,391.12L523.57,391.38L521.58,391.65L519.60,391.92L517.62,392.20L515.63,392.49L513.65,392.77L511.67,393.07L509.68,393.36L507.70,393.67L505.72,393.97L503.73,394.29L501.75,394.60L499.77,394.92L497.78,395.25L495.80,395.58L493.82,395.91L491.83,396.25L489.85,396.59L487.87,396.94L485.88,397.28L483.90,397.64L481.92,397.99L479.93,398.35L477.95,398.71L475.97,399.08L473.98,399.44L472.00,399.81L470.02,400.18L468.03,400.55L466.05,400.93L464.07,401.30L462.08,401.68L460.10,402.06L458.12,402.43L456.13,402.81L454.15,403.19L452.17,403.56L450.18,403.94L448.20,404.31L446.22,404.68L444.23,405.05L442.25,405.42L440.27,405.78L438.28,406.14L436.30,406.50L434.32,406.85L432.33,407.20L430.35,407.55L428.37,407.89L426.38,408.22L424.40,408.55L422.42,408.87L420.43,409.18L418.45,409.49L416.47,409.79L414.48,410.09L412.50,410.37L410.52,410.65L408.53,410.92L406.55,411.18L404.57,411.43L402.58,411.67L400.60,411.91L398.62,412.13L396.63,412.35L394.65,412.56L392.67,412.75L390.68,412.94L388.70,413.12L386.72,413.29L384.73,413.45L382.75,413.60L380.77,413.75L378.78,413.88L376.80,414.01L374.82,414.12L372.83,414.23L370.85,414.34L368.87,414.43L366.88,414.52L364.90,414.59L362.92,414.67L360.93,414.73L358.95,414.79L356.97,414.85L354.98,414.90L353.00,414.94L351.02,414.98L349.03,415.02L347.05,415.05L345.07,415.08L343.08,415.10L341.10,415.13L339.12,415.14L337.13,415.16L335.15,415.17L333.17,415.19L331.18,415.20L329.20,415.21L327.22,415.21L325.23,415.22L323.25,415.22L321.27,415.23L319.28,415.23L317.30,415.24L315.32,415.24L313.33,415.24L311.35,415.24L309.37,415.24L307.38,415.24L305.40,415.24L303.42,415.24L301.43,415.25L299.45,415.25L297.47,415.25L295.48,415.25L293.50,415.25L291.52,415.25L289.53,415.25L287.55,415.25L285.57,415.25L283.58,415.25L281.60,415.25L279.62,415.25L277.63,415.25L275.65,415.25L273.67,415.25L271.68,415.25L269.70,415.25L267.72,415.25L265.73,415.25L263.75,415.25L261.77,415.25L259.78,415.25L257.80,415.25L255.82,415.25L253.83,415.25L251.85,415.25L249.87,415.25L247.88,415.25L245.90,415.25L243.92,415.25L241.93,415.25L239.95,415.25L237.97,415.25L235.98,415.25L234.00,415.25L232.02,415.25L230.03,415.25L228.05,415.25L226.07,415.25L224.08,415.25L222.10,415.25L220.12,415.25L218.13,415.25L216.15,415.25L214.17,415.25L212.18,415.25L210.20,415.25L208.22,415.25L206.23,415.25L204.25,415.25L202.27,415.25L200.28,415.25L198.30,415.25L196.32,415.25L194.33,415.25L192.35,415.25L190.37,415.25L188.38,415.25L186.40,415.25L184.42,415.25L182.43,415.25L180.45,415.25L178.47,415.25L176.48,415.25L174.50,415.25L172.52,415.25L170.53,415.25L168.55,415.25L166.57,415.25L164.58,415.25L162.60,415.25L160.62,415.25L158.63,415.25L156.65,415.25L152.35,415.25Z"/>
<circle cx="143.00" cy="954.99" r="8.2"/>
<circle cx="299.98" cy="948.55" r="8.2"/>
<circle cx="384.50" cy="913.68" r="8.2"/>
<circle cx="469.02" cy="799.67" r="8.2"/>
<circle cx="553.55" cy="693.85" r="8.2"/>
<circle cx="626.00" cy="688.08" r="8.2"/>
<path d="M134.70,957.63L141.20,941.63L144.80,941.63L151.30,957.63ZM139.40,954.93L143.00,948.03L146.60,954.93Z" fill-rule="evenodd"/>
<path d="M291.68,951.19L298.18,935.19L301.78,935.19L308.28,951.19ZM296.38,948.49L299.98,941.59L303.58,948.49Z" fill-rule="evenodd"/>
<path d="M376.20,906.93L382.70,890.93L386.30,890.93L392.80,906.93ZM380.90,904.23L384.50,897.33L388.10,904.23Z" fill-rule="evenodd"/>
<path d="M460.72,818.40L467.22,802.40L470.82,802.40L477.32,818.40ZM465.42,815.70L469.02,808.80L472.62,815.70Z" fill-rule="evenodd"/>
<path d="M545.25,746.24L551.75,730.24L555.35,730.24L561.85,746.24ZM549.95,743.54L553.55,736.64L557.15,743.54Z" fill-rule="evenodd"/>
<path d="M617.70,773.34L624.20,757.34L627.80,757.34L634.30,773.34ZM622.40,770.64L626.00,763.74L629.60,770.64Z" fill-rule="evenodd"/>
<path d="M136.00,956.63L142.00,942.63L144.00,942.63L150.00,956.63Z"/>
<path d="M292.98,950.19L298.98,936.19L300.98,936.19L306.98,950.19Z"/>
<path d="M377.50,905.12L383.50,891.12L385.50,891.12L391.50,905.12Z"/>
<path d="M462.02,821.43L468.02,807.43L470.02,807.43L476.02,821.43Z"/>
<path d="M546.55,771.80L552.55,757.80L554.55,757.80L560.55,771.80Z"/>
<path d="M619.00,792.19L625.00,778.19L627.00,778.19L633.00,792.19Z"/>
<rect x="140.80" y="632.50" width="4.4" height="326.30"/>
<rect x="140.80" y="954.40" width="487.50" height="4.4"/>
<rect x="132.20" y="954.40" width="10.80" height="4.4"/>
<rect x="132.20" y="900.75" width="10.80" height="4.4"/>
<rect x="132.20" y="847.10" width="10.80" height="4.4"/>
<rect x="132.20" y="793.45" width="10.80" height="4.4"/>
<rect x="132.20" y="739.80" width="10.80" height="4.4"/>
<rect x="132.20" y="686.15" width="10.80" height="4.4"/>
<rect x="132.20" y="632.50" width="10.80" height="4.4"/>
<rect x="140.80" y="956.60" width="4.4" height="11.70"/>
<rect x="261.55" y="956.60" width="4.4" height="11.70"/>
<rect x="382.30" y="956.60" width="4.4" height="11.70"/>
<rect x="503.05" y="956.60" width="4.4" height="11.70"/>
<rect x="623.90" y="956.60" width="4.4" height="11.70"/>
<path d="M140.85,955.77L142.86,955.76L144.87,955.74L146.89,955.73L148.90,955.71L150.91,955.69L152.92,955.68L154.94,955.66L156.95,955.64L158.96,955.62L160.97,955.60L162.99,955.57L165.00,955.55L167.01,955.53L169.02,955.50L171.04,955.47L173.05,955.45L175.06,955.42L177.08,955.39L179.09,955.35L181.10,955.32L183.11,955.29L185.13,955.25L187.14,955.21L189.15,955.17L191.16,955.13L193.18,955.08L195.19,955.04L197.20,954.99L199.21,954.94L201.22,954.88L203.24,954.83L205.25,954.77L207.26,954.71L209.27,954.64L211.29,954.58L213.30,954.51L215.31,954.43L217.32,954.36L219.34,954.28L221.35,954.19L223.36,954.11L225.37,954.01L227.39,953.92L229.40,953.82L231.41,953.71L233.43,953.60L235.44,953.49L237.45,953.37L239.46,953.24L241.48,953.11L243.49,952.97L245.50,952.83L247.51,952.68L249.53,952.52L251.54,952.36L253.55,952.19L255.56,952.01L257.58,951.82L259.59,951.62L261.60,951.42L263.61,951.21L265.62,950.99L267.64,950.75L269.65,950.51L271.66,950.26L273.67,949.99L275.69,949.72L277.70,949.43L279.71,949.13L281.72,948.82L283.74,948.49L285.75,948.15L287.76,947.80L289.78,947.43L291.79,947.05L293.80,946.64L295.81,946.23L297.83,945.79L299.84,945.34L301.85,944.87L303.86,944.38L305.88,943.87L307.89,943.34L309.90,942.79L311.91,942.22L313.93,941.62L315.94,941.00L317.95,940.36L319.96,939.69L321.98,939.00L323.99,938.28L326.00,937.53L328.01,936.76L330.02,935.96L332.04,935.12L334.05,934.26L336.06,933.37L338.07,932.45L340.09,931.49L342.10,930.50L344.11,929.48L346.12,928.42L348.14,927.33L350.15,926.20L352.16,925.03L354.17,923.83L356.19,922.58L358.20,921.30L360.21,919.98L362.23,918.62L364.24,917.22L366.25,915.78L368.26,914.30L370.28,912.78L372.29,911.21L374.30,909.60L376.31,907.95L378.33,906.26L380.34,904.52L382.35,902.74L384.36,900.92L386.38,899.05L388.39,897.14L390.40,895.19L392.41,893.20L394.42,891.16L396.44,889.08L398.45,886.96L400.46,884.80L402.47,882.60L404.49,880.36L406.50,878.08L408.51,875.76L410.53,873.41L412.54,871.02L414.55,868.59L416.56,866.14L418.58,863.65L420.59,861.13L422.60,858.58L424.61,856.00L426.63,853.39L428.64,850.76L430.65,848.11L432.66,845.43L434.68,842.74L436.69,840.02L438.70,837.29L440.71,834.55L442.73,831.79L444.74,829.03L446.75,826.25L448.76,823.47L450.77,820.68L452.79,817.89L454.80,815.10L456.81,812.31L458.82,809.52L460.84,806.73L462.85,803.96L464.86,801.19L466.87,798.43L468.89,795.69L470.90,792.96L472.91,790.24L474.92,787.54L476.94,784.86L478.95,782.20L480.96,779.57L482.98,776.95L484.99,774.36L487.00,771.80L489.01,769.27L491.03,766.76L493.04,764.28L495.05,761.83L497.06,759.42L499.08,757.04L501.09,754.69L503.10,752.37L505.11,750.09L507.12,747.85L509.14,745.64L511.15,743.46L513.16,741.33L515.17,739.23L517.19,737.17L519.20,735.15L521.21,733.16L523.23,731.21L525.24,729.31L527.25,727.44L529.26,725.60L531.27,723.81L533.29,722.05L535.30,720.34L537.31,718.66L539.32,717.02L541.34,715.41L543.35,713.84L545.36,712.31L547.38,710.82L549.39,709.36L551.40,707.93L553.41,706.54L555.43,705.19L557.44,703.87L559.45,702.58L561.46,701.33L563.48,700.11L565.49,698.92L567.50,697.76L569.51,696.64L571.52,695.54L573.54,694.47L575.55,693.44L577.56,692.43L579.57,691.45L581.59,690.49L583.60,689.57L585.61,688.67L587.63,687.79L589.64,686.94L591.65,686.12L593.66,685.32L595.68,684.54L597.69,683.79L599.70,683.05L601.71,682.34L603.73,681.66L605.74,680.99L607.75,680.34L609.76,679.71L611.78,679.10L613.79,678.51L615.80,677.94L617.81,677.38L619.83,676.84L621.84,676.32L623.85,675.82L628.15,675.82L628.15,680.12L626.14,680.62L624.12,681.14L622.11,681.68L620.10,682.24L618.09,682.81L616.08,683.40L614.06,684.01L612.05,684.64L610.04,685.29L608.02,685.96L606.01,686.64L604.00,687.35L601.99,688.09L599.98,688.84L597.96,689.62L595.95,690.42L593.94,691.24L591.93,692.09L589.91,692.97L587.90,693.87L585.89,694.79L583.87,695.75L581.86,696.73L579.85,697.74L577.84,698.77L575.82,699.84L573.81,700.94L571.80,702.06L569.79,703.22L567.77,704.41L565.76,705.63L563.75,706.88L561.74,708.17L559.73,709.49L557.71,710.84L555.70,712.23L553.69,713.66L551.68,715.12L549.66,716.61L547.65,718.14L545.64,719.71L543.62,721.32L541.61,722.96L539.60,724.64L537.59,726.35L535.57,728.11L533.56,729.90L531.55,731.74L529.54,733.61L527.52,735.51L525.51,737.46L523.50,739.45L521.49,741.47L519.47,743.53L517.46,745.63L515.45,747.76L513.44,749.94L511.42,752.15L509.41,754.39L507.40,756.67L505.39,758.99L503.38,761.34L501.36,763.72L499.35,766.13L497.34,768.58L495.33,771.06L493.31,773.57L491.30,776.10L489.29,778.66L487.28,781.25L485.26,783.87L483.25,786.50L481.24,789.16L479.22,791.84L477.21,794.54L475.20,797.26L473.19,799.99L471.17,802.73L469.16,805.49L467.15,808.26L465.14,811.03L463.12,813.82L461.11,816.61L459.10,819.40L457.09,822.19L455.07,824.98L453.06,827.77L451.05,830.55L449.04,833.33L447.02,836.09L445.01,838.85L443.00,841.59L440.99,844.32L438.98,847.04L436.96,849.73L434.95,852.41L432.94,855.06L430.93,857.69L428.91,860.30L426.90,862.88L424.89,865.43L422.88,867.95L420.86,870.44L418.85,872.89L416.84,875.32L414.83,877.71L412.81,880.06L410.80,882.38L408.79,884.66L406.77,886.90L404.76,889.10L402.75,891.26L400.74,893.38L398.72,895.46L396.71,897.50L394.70,899.49L392.69,901.44L390.67,903.35L388.66,905.22L386.65,907.04L384.64,908.82L382.62,910.56L380.61,912.25L378.60,913.90L376.59,915.51L374.58,917.08L372.56,918.60L370.55,920.08L368.54,921.52L366.53,922.92L364.51,924.28L362.50,925.60L360.49,926.88L358.47,928.13L356.46,929.33L354.45,930.50L352.44,931.63L350.42,932.72L348.41,933.78L346.40,934.80L344.39,935.79L342.37,936.75L340.36,937.67L338.35,938.56L336.34,939.42L334.32,940.26L332.31,941.06L330.30,941.83L328.29,942.58L326.27,943.30L324.26,943.99L322.25,944.66L320.24,945.30L318.23,945.92L316.21,946.52L314.20,947.09L312.19,947.64L310.18,948.17L308.16,948.68L306.15,949.17L304.14,949.64L302.13,950.09L300.11,950.53L298.10,950.94L296.09,951.35L294.08,951.73L292.06,952.10L290.05,952.45L288.04,952.79L286.02,953.12L284.01,953.43L282.00,953.73L279.99,954.02L277.97,954.29L275.96,954.56L273.95,954.81L271.94,955.05L269.92,955.29L267.91,955.51L265.90,955.72L263.89,955.92L261.88,956.12L259.86,956.31L257.85,956.49L255.84,956.66L253.83,956.82L251.81,956.98L249.80,957.13L247.79,957.27L245.78,957.41L243.76,957.54L241.75,957.67L239.74,957.79L237.73,957.90L235.71,958.01L233.70,958.12L231.69,958.22L229.67,958.31L227.66,958.41L225.65,958.49L223.64,958.58L221.62,958.66L219.61,958.73L217.60,958.81L215.59,958.88L213.57,958.94L211.56,959.01L209.55,959.07L207.54,959.13L205.53,959.18L203.51,959.24L201.50,959.29L199.49,959.34L197.48,959.38L195.46,959.43L193.45,959.47L191.44,959.51L189.43,959.55L187.41,959.59L185.40,959.62L183.39,959.65L181.38,959.69L179.36,959.72L177.35,959.75L175.34,959.77L173.32,959.80L171.31,959.83L169.30,959.85L167.29,959.87L165.27,959.90L163.26,959.92L161.25,959.94L159.24,959.96L157.22,959.98L155.21,959.99L153.20,960.01L151.19,960.03L149.17,960.04L147.16,960.06L145.15,960.07L140.85,960.07Z"/>
<path d="M140.85,951.86L142.86,951.82L144.87,951.77L146.89,951.73L148.90,951.68L150.91,951.64L152.92,951.59L154.94,951.54L156.95,951.49L158.96,951.43L160.97,951.38L162.99,951.32L165.00,951.26L167.01,951.20L169.02,951.13L171.04,951.06L173.05,950.99L175.06,950.92L177.08,950.85L179.09,950.77L181.10,950.69L183.11,950.61L185.13,950.52L187.14,950.43L189.15,950.34L191.16,950.24L193.18,950.14L195.19,950.04L197.20,949.93L199.21,949.82L201.22,949.70L203.24,949.58L205.25,949.46L207.26,949.33L209.27,949.19L211.29,949.06L213.30,948.91L215.31,948.76L217.32,948.61L219.34,948.45L221.35,948.29L223.36,948.11L225.37,947.94L227.39,947.75L229.40,947.56L231.41,947.36L233.43,947.16L235.44,946.95L237.45,946.73L239.46,946.50L241.48,946.27L243.49,946.02L245.50,945.77L247.51,945.51L249.53,945.24L251.54,944.96L253.55,944.67L255.56,944.37L257.58,944.05L259.59,943.73L261.60,943.40L263.61,943.06L265.62,942.70L267.64,942.33L269.65,941.95L271.66,941.55L273.67,941.14L275.69,940.72L277.70,940.29L279.71,939.83L281.72,939.37L283.74,938.89L285.75,938.39L287.76,937.87L289.78,937.34L291.79,936.79L293.80,936.22L295.81,935.64L297.83,935.03L299.84,934.41L301.85,933.76L303.86,933.10L305.88,932.41L307.89,931.71L309.90,930.98L311.91,930.23L313.93,929.45L315.94,928.65L317.95,927.83L319.96,926.98L321.98,926.11L323.99,925.21L326.00,924.29L328.01,923.34L330.02,922.36L332.04,921.36L334.05,920.33L336.06,919.27L338.07,918.18L340.09,917.06L342.10,915.92L344.11,914.74L346.12,913.53L348.14,912.30L350.15,911.03L352.16,909.74L354.17,908.41L356.19,907.05L358.20,905.66L360.21,904.24L362.23,902.79L364.24,901.31L366.25,899.79L368.26,898.25L370.28,896.68L372.29,895.07L374.30,893.44L376.31,891.78L378.33,890.09L380.34,888.37L382.35,886.62L384.36,884.85L386.38,883.05L388.39,881.22L390.40,879.37L392.41,877.50L394.42,875.60L396.44,873.68L398.45,871.74L400.46,869.78L402.47,867.81L404.49,865.81L406.50,863.80L408.51,861.78L410.53,859.74L412.54,857.69L414.55,855.63L416.56,853.57L418.58,851.49L420.59,849.41L422.60,847.33L424.61,845.24L426.63,843.16L428.64,841.07L430.65,838.99L432.66,836.91L434.68,834.84L436.69,832.77L438.70,830.72L440.71,828.67L442.73,826.64L444.74,824.62L446.75,822.62L448.76,820.63L450.77,818.66L452.79,816.71L454.80,814.78L456.81,812.87L458.82,810.98L460.84,809.12L462.85,807.28L464.86,805.47L466.87,803.68L468.89,801.92L470.90,800.19L472.91,798.49L474.92,796.82L476.94,795.18L478.95,793.57L480.96,791.99L482.98,790.44L484.99,788.92L487.00,787.44L489.01,785.98L491.03,784.56L493.04,783.17L495.05,781.81L497.06,780.49L499.08,779.20L501.09,777.93L503.10,776.70L505.11,775.51L507.12,774.34L509.14,773.20L511.15,772.10L513.16,771.02L515.17,769.98L517.19,768.96L519.20,767.97L521.21,767.02L523.23,766.09L525.24,765.18L527.25,764.31L529.26,763.46L531.27,762.64L533.29,761.84L535.30,761.07L537.31,760.32L539.32,759.59L541.34,758.89L543.35,758.22L545.36,757.56L547.38,756.92L549.39,756.31L551.40,755.72L553.41,755.14L555.43,754.59L557.44,754.06L559.45,753.54L561.46,753.04L563.48,752.56L565.49,752.10L567.50,751.65L569.51,751.21L571.52,750.80L573.54,750.39L575.55,750.01L577.56,749.63L579.57,749.27L581.59,748.92L583.60,748.59L585.61,748.26L587.63,747.95L589.64,747.65L591.65,747.36L593.66,747.09L595.68,746.82L597.69,746.56L599.70,746.31L601.71,746.07L603.73,745.84L605.74,745.62L607.75,745.41L609.76,745.20L611.78,745.00L613.79,744.81L615.80,744.63L617.81,744.46L619.83,744.29L621.84,744.12L623.85,743.97L628.15,743.97L628.15,748.27L626.14,748.42L624.12,748.59L622.11,748.76L620.10,748.93L618.09,749.11L616.08,749.30L614.06,749.50L612.05,749.71L610.04,749.92L608.02,750.14L606.01,750.37L604.00,750.61L601.99,750.86L599.98,751.12L597.96,751.39L595.95,751.66L593.94,751.95L591.93,752.25L589.91,752.56L587.90,752.89L585.89,753.22L583.87,753.57L581.86,753.93L579.85,754.31L577.84,754.69L575.82,755.10L573.81,755.51L571.80,755.95L569.79,756.40L567.77,756.86L565.76,757.34L563.75,757.84L561.74,758.36L559.73,758.89L557.71,759.44L555.70,760.02L553.69,760.61L551.68,761.22L549.66,761.86L547.65,762.52L545.64,763.19L543.62,763.89L541.61,764.62L539.60,765.37L537.59,766.14L535.57,766.94L533.56,767.76L531.55,768.61L529.54,769.48L527.52,770.39L525.51,771.32L523.50,772.27L521.49,773.26L519.47,774.28L517.46,775.32L515.45,776.40L513.44,777.50L511.42,778.64L509.41,779.81L507.40,781.00L505.39,782.23L503.38,783.50L501.36,784.79L499.35,786.11L497.34,787.47L495.33,788.86L493.31,790.28L491.30,791.74L489.29,793.22L487.28,794.74L485.26,796.29L483.25,797.87L481.24,799.48L479.22,801.12L477.21,802.79L475.20,804.49L473.19,806.22L471.17,807.98L469.16,809.77L467.15,811.58L465.14,813.42L463.12,815.28L461.11,817.17L459.10,819.08L457.09,821.01L455.07,822.96L453.06,824.93L451.05,826.92L449.04,828.92L447.02,830.94L445.01,832.97L443.00,835.02L440.99,837.07L438.98,839.14L436.96,841.21L434.95,843.29L432.94,845.37L430.93,847.46L428.91,849.54L426.90,851.63L424.89,853.71L422.88,855.79L420.86,857.87L418.85,859.93L416.84,861.99L414.83,864.04L412.81,866.08L410.80,868.10L408.79,870.11L406.77,872.11L404.76,874.08L402.75,876.04L400.74,877.98L398.72,879.90L396.71,881.80L394.70,883.67L392.69,885.52L390.67,887.35L388.66,889.15L386.65,890.92L384.64,892.67L382.62,894.39L380.61,896.08L378.60,897.74L376.59,899.37L374.58,900.98L372.56,902.55L370.55,904.09L368.54,905.61L366.53,907.09L364.51,908.54L362.50,909.96L360.49,911.35L358.47,912.71L356.46,914.04L354.45,915.33L352.44,916.60L350.42,917.83L348.41,919.04L346.40,920.22L344.39,921.36L342.37,922.48L340.36,923.57L338.35,924.63L336.34,925.66L334.32,926.66L332.31,927.64L330.30,928.59L328.29,929.51L326.27,930.41L324.26,931.28L322.25,932.13L320.24,932.95L318.23,933.75L316.21,934.53L314.20,935.28L312.19,936.01L310.18,936.71L308.16,937.40L306.15,938.06L304.14,938.71L302.13,939.33L300.11,939.94L298.10,940.52L296.09,941.09L294.08,941.64L292.06,942.17L290.05,942.69L288.04,943.19L286.02,943.67L284.01,944.13L282.00,944.59L279.99,945.02L277.97,945.44L275.96,945.85L273.95,946.25L271.94,946.63L269.92,947.00L267.91,947.36L265.90,947.70L263.89,948.03L261.88,948.35L259.86,948.67L257.85,948.97L255.84,949.26L253.83,949.54L251.81,949.81L249.80,950.07L247.79,950.32L245.78,950.57L243.76,950.80L241.75,951.03L239.74,951.25L237.73,951.46L235.71,951.66L233.70,951.86L231.69,952.05L229.67,952.24L227.66,952.41L225.65,952.59L223.64,952.75L221.62,952.91L219.61,953.06L217.60,953.21L215.59,953.36L213.57,953.49L211.56,953.63L209.55,953.76L207.54,953.88L205.53,954.00L203.51,954.12L201.50,954.23L199.49,954.34L197.48,954.44L195.46,954.54L193.45,954.64L191.44,954.73L189.43,954.82L187.41,954.91L185.40,954.99L183.39,955.07L181.38,955.15L179.36,955.22L177.35,955.29L175.34,955.36L173.32,955.43L171.31,955.50L169.30,955.56L167.29,955.62L165.27,955.68L163.26,955.73L161.25,955.79L159.24,955.84L157.22,955.89L155.21,955.94L153.20,955.98L151.19,956.03L149.17,956.07L147.16,956.12L145.15,956.16L140.85,956.16Z"/>
<path d="M140.85,951.67L142.86,951.65L144.87,951.63L146.89,951.61L148.90,951.59L150.91,951.57L152.92,951.54L154.94,951.52L156.95,951.49L158.96,951.46L160.97,951.43L162.99,951.40L165.00,951.37L167.01,951.33L169.02,951.30L171.04,951.26L173.05,951.22L175.06,951.18L177.08,951.14L179.09,951.09L181.10,951.04L183.11,950.99L185.13,950.94L187.14,950.89L189.15,950.83L191.16,950.77L193.18,950.71L195.19,950.64L197.20,950.57L199.21,950.50L201.22,950.43L203.24,950.35L205.25,950.27L207.26,950.18L209.27,950.09L211.29,950.00L213.30,949.90L215.31,949.80L217.32,949.69L219.34,949.58L221.35,949.46L223.36,949.34L225.37,949.21L227.39,949.07L229.40,948.93L231.41,948.79L233.43,948.63L235.44,948.47L237.45,948.30L239.46,948.13L241.48,947.95L243.49,947.76L245.50,947.56L247.51,947.35L249.53,947.13L251.54,946.90L253.55,946.67L255.56,946.42L257.58,946.16L259.59,945.89L261.60,945.61L263.61,945.32L265.62,945.02L267.64,944.70L269.65,944.37L271.66,944.02L273.67,943.67L275.69,943.29L277.70,942.90L279.71,942.50L281.72,942.08L283.74,941.64L285.75,941.19L287.76,940.71L289.78,940.22L291.79,939.71L293.80,939.18L295.81,938.63L297.83,938.06L299.84,937.47L301.85,936.86L303.86,936.22L305.88,935.56L307.89,934.88L309.90,934.17L311.91,933.44L313.93,932.68L315.94,931.90L317.95,931.09L319.96,930.25L321.98,929.39L323.99,928.50L326.00,927.58L328.01,926.63L330.02,925.65L332.04,924.64L334.05,923.61L336.06,922.54L338.07,921.44L340.09,920.32L342.10,919.16L344.11,917.97L346.12,916.75L348.14,915.50L350.15,914.22L352.16,912.91L354.17,911.57L356.19,910.19L358.20,908.79L360.21,907.36L362.23,905.89L364.24,904.40L366.25,902.88L368.26,901.33L370.28,899.76L372.29,898.15L374.30,896.53L376.31,894.87L378.33,893.19L380.34,891.49L382.35,889.77L384.36,888.02L386.38,886.26L388.39,884.47L390.40,882.67L392.41,880.85L394.42,879.02L396.44,877.17L398.45,875.31L400.46,873.44L402.47,871.56L404.49,869.67L406.50,867.77L408.51,865.87L410.53,863.97L412.54,862.06L414.55,860.15L416.56,858.25L418.58,856.34L420.59,854.44L422.60,852.54L424.61,850.65L426.63,848.77L428.64,846.90L430.65,845.04L432.66,843.19L434.68,841.36L436.69,839.54L438.70,837.73L440.71,835.94L442.73,834.17L444.74,832.42L446.75,830.69L448.76,828.98L450.77,827.29L452.79,825.63L454.80,823.99L456.81,822.37L458.82,820.77L460.84,819.21L462.85,817.66L464.86,816.15L466.87,814.66L468.89,813.20L470.90,811.76L472.91,810.36L474.92,808.98L476.94,807.63L478.95,806.30L480.96,805.01L482.98,803.74L484.99,802.50L487.00,801.29L489.01,800.11L491.03,798.95L493.04,797.83L495.05,796.73L497.06,795.65L499.08,794.61L501.09,793.59L503.10,792.59L505.11,791.63L507.12,790.69L509.14,789.77L511.15,788.88L513.16,788.01L515.17,787.17L517.19,786.35L519.20,785.56L521.21,784.79L523.23,784.04L525.24,783.31L527.25,782.60L529.26,781.91L531.27,781.25L533.29,780.60L535.30,779.98L537.31,779.37L539.32,778.79L541.34,778.22L543.35,777.67L545.36,777.13L547.38,776.61L549.39,776.11L551.40,775.63L553.41,775.16L555.43,774.71L557.44,774.27L559.45,773.84L561.46,773.43L563.48,773.04L565.49,772.65L567.50,772.28L569.51,771.92L571.52,771.57L573.54,771.24L575.55,770.92L577.56,770.60L579.57,770.30L581.59,770.01L583.60,769.73L585.61,769.45L587.63,769.19L589.64,768.94L591.65,768.69L593.66,768.45L595.68,768.23L597.69,768.01L599.70,767.79L601.71,767.59L603.73,767.39L605.74,767.20L607.75,767.01L609.76,766.83L611.78,766.66L613.79,766.50L615.80,766.34L617.81,766.18L619.83,766.03L621.84,765.89L623.85,765.75L628.15,765.75L628.15,770.05L626.14,770.19L624.12,770.33L622.11,770.48L620.10,770.64L618.09,770.80L616.08,770.96L614.06,771.13L612.05,771.31L610.04,771.50L608.02,771.69L606.01,771.89L604.00,772.09L601.99,772.31L599.98,772.53L597.96,772.75L595.95,772.99L593.94,773.24L591.93,773.49L589.91,773.75L587.90,774.03L585.89,774.31L583.87,774.60L581.86,774.90L579.85,775.22L577.84,775.54L575.82,775.87L573.81,776.22L571.80,776.58L569.79,776.95L567.77,777.34L565.76,777.73L563.75,778.14L561.74,778.57L559.73,779.01L557.71,779.46L555.70,779.93L553.69,780.41L551.68,780.91L549.66,781.43L547.65,781.97L545.64,782.52L543.62,783.09L541.61,783.67L539.60,784.28L537.59,784.90L535.57,785.55L533.56,786.21L531.55,786.90L529.54,787.61L527.52,788.34L525.51,789.09L523.50,789.86L521.49,790.65L519.47,791.47L517.46,792.31L515.45,793.18L513.44,794.07L511.42,794.99L509.41,795.93L507.40,796.89L505.39,797.89L503.38,798.91L501.36,799.95L499.35,801.03L497.34,802.13L495.33,803.25L493.31,804.41L491.30,805.59L489.29,806.80L487.28,808.04L485.26,809.31L483.25,810.60L481.24,811.93L479.22,813.28L477.21,814.66L475.20,816.06L473.19,817.50L471.17,818.96L469.16,820.45L467.15,821.96L465.14,823.51L463.12,825.07L461.11,826.67L459.10,828.29L457.09,829.93L455.07,831.59L453.06,833.28L451.05,834.99L449.04,836.72L447.02,838.47L445.01,840.24L443.00,842.03L440.99,843.84L438.98,845.66L436.96,847.49L434.95,849.34L432.94,851.20L430.93,853.07L428.91,854.95L426.90,856.84L424.89,858.74L422.88,860.64L420.86,862.55L418.85,864.45L416.84,866.36L414.83,868.27L412.81,870.17L410.80,872.07L408.79,873.97L406.77,875.86L404.76,877.74L402.75,879.61L400.74,881.47L398.72,883.32L396.71,885.15L394.70,886.97L392.69,888.77L390.67,890.56L388.66,892.32L386.65,894.07L384.64,895.79L382.62,897.49L380.61,899.17L378.60,900.83L376.59,902.45L374.58,904.06L372.56,905.63L370.55,907.18L368.54,908.70L366.53,910.19L364.51,911.66L362.50,913.09L360.49,914.49L358.47,915.87L356.46,917.21L354.45,918.52L352.44,919.80L350.42,921.05L348.41,922.27L346.40,923.46L344.39,924.62L342.37,925.74L340.36,926.84L338.35,927.91L336.34,928.94L334.32,929.95L332.31,930.93L330.30,931.88L328.29,932.80L326.27,933.69L324.26,934.55L322.25,935.39L320.24,936.20L318.23,936.98L316.21,937.74L314.20,938.47L312.19,939.18L310.18,939.86L308.16,940.52L306.15,941.16L304.14,941.77L302.13,942.36L300.11,942.93L298.10,943.48L296.09,944.01L294.08,944.52L292.06,945.01L290.05,945.49L288.04,945.94L286.02,946.38L284.01,946.80L282.00,947.20L279.99,947.59L277.97,947.97L275.96,948.32L273.95,948.67L271.94,949.00L269.92,949.32L267.91,949.62L265.90,949.91L263.89,950.19L261.88,950.46L259.86,950.72L257.85,950.97L255.84,951.20L253.83,951.43L251.81,951.65L249.80,951.86L247.79,952.06L245.78,952.25L243.76,952.43L241.75,952.60L239.74,952.77L237.73,952.93L235.71,953.09L233.70,953.23L231.69,953.37L229.67,953.51L227.66,953.64L225.65,953.76L223.64,953.88L221.62,953.99L219.61,954.10L217.60,954.20L215.59,954.30L213.57,954.39L211.56,954.48L209.55,954.57L207.54,954.65L205.53,954.73L203.51,954.80L201.50,954.87L199.49,954.94L197.48,955.01L195.46,955.07L193.45,955.13L191.44,955.19L189.43,955.24L187.41,955.29L185.40,955.34L183.39,955.39L181.38,955.44L179.36,955.48L177.35,955.52L175.34,955.56L173.32,955.60L171.31,955.63L169.30,955.67L167.29,955.70L165.27,955.73L163.26,955.76L161.25,955.79L159.24,955.82L157.22,955.84L155.21,955.87L153.20,955.89L151.19,955.91L149.17,955.93L147.16,955.95L145.15,955.97L140.85,955.97Z"/>
</svg>
</body></html>
